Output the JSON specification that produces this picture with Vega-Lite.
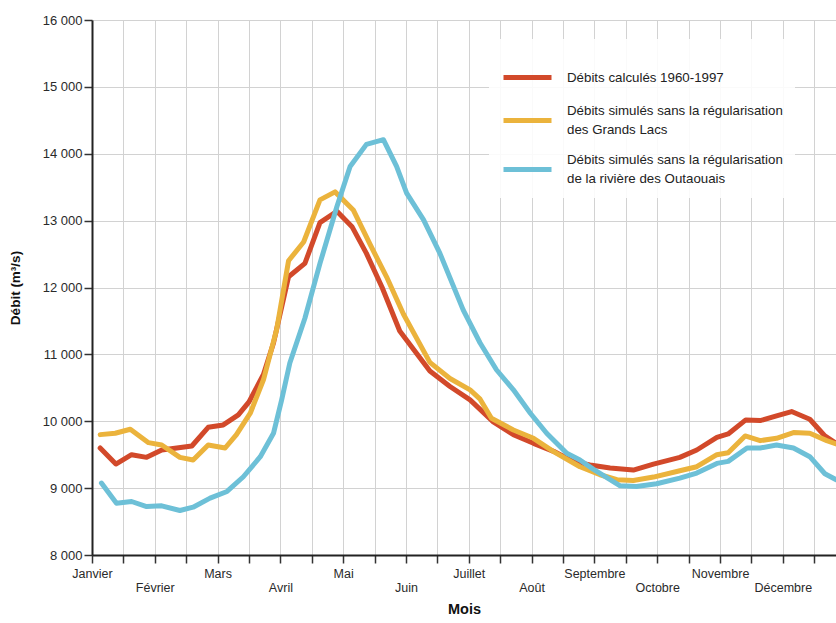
{
  "$schema": "https://vega.github.io/schema/vega-lite/v6.json",
  "width": 744,
  "height": 535,
  "autosize": {"type": "none"},
  "padding": {"left": 92, "top": 20, "right": 0, "bottom": 68},
  "background": "white",
  "config": {
    "font": "Liberation Sans",
    "view": {"stroke": null},
    "axis": {
      "labelFont": "Liberation Sans",
      "titleFont": "Liberation Sans",
      "labelFontSize": 12.5,
      "labelColor": "#2a2a2a",
      "titleColor": "#111",
      "domainColor": "#222",
      "domainWidth": 2,
      "tickColor": "#333",
      "tickWidth": 1.5,
      "tickSize": 8,
      "gridColor": "#d2d2d2",
      "gridWidth": 1
    }
  },
  "data": {
    "values": [
      {"mois": 0.13, "debit": 9600, "serie": "Débits calculés 1960-1997"},
      {"mois": 0.38, "debit": 9360, "serie": "Débits calculés 1960-1997"},
      {"mois": 0.63, "debit": 9500, "serie": "Débits calculés 1960-1997"},
      {"mois": 0.87, "debit": 9460, "serie": "Débits calculés 1960-1997"},
      {"mois": 1.11, "debit": 9570, "serie": "Débits calculés 1960-1997"},
      {"mois": 1.35, "debit": 9600, "serie": "Débits calculés 1960-1997"},
      {"mois": 1.59, "debit": 9630, "serie": "Débits calculés 1960-1997"},
      {"mois": 1.85, "debit": 9910, "serie": "Débits calculés 1960-1997"},
      {"mois": 2.09, "debit": 9945, "serie": "Débits calculés 1960-1997"},
      {"mois": 2.33, "debit": 10095, "serie": "Débits calculés 1960-1997"},
      {"mois": 2.5, "debit": 10290, "serie": "Débits calculés 1960-1997"},
      {"mois": 2.73, "debit": 10700, "serie": "Débits calculés 1960-1997"},
      {"mois": 2.89, "debit": 11170, "serie": "Débits calculés 1960-1997"},
      {"mois": 3.13, "debit": 12160, "serie": "Débits calculés 1960-1997"},
      {"mois": 3.39, "debit": 12360, "serie": "Débits calculés 1960-1997"},
      {"mois": 3.63, "debit": 12970, "serie": "Débits calculés 1960-1997"},
      {"mois": 3.9, "debit": 13140, "serie": "Débits calculés 1960-1997"},
      {"mois": 4.14, "debit": 12910, "serie": "Débits calculés 1960-1997"},
      {"mois": 4.37, "debit": 12510, "serie": "Débits calculés 1960-1997"},
      {"mois": 4.62, "debit": 12000, "serie": "Débits calculés 1960-1997"},
      {"mois": 4.9, "debit": 11350, "serie": "Débits calculés 1960-1997"},
      {"mois": 5.14, "debit": 11050, "serie": "Débits calculés 1960-1997"},
      {"mois": 5.38, "debit": 10750, "serie": "Débits calculés 1960-1997"},
      {"mois": 5.7, "debit": 10520, "serie": "Débits calculés 1960-1997"},
      {"mois": 6.02, "debit": 10320, "serie": "Débits calculés 1960-1997"},
      {"mois": 6.39, "debit": 9990, "serie": "Débits calculés 1960-1997"},
      {"mois": 6.71, "debit": 9800, "serie": "Débits calculés 1960-1997"},
      {"mois": 7.03, "debit": 9670, "serie": "Débits calculés 1960-1997"},
      {"mois": 7.35, "debit": 9550, "serie": "Débits calculés 1960-1997"},
      {"mois": 7.66, "debit": 9400, "serie": "Débits calculés 1960-1997"},
      {"mois": 7.93, "debit": 9345, "serie": "Débits calculés 1960-1997"},
      {"mois": 8.25, "debit": 9300, "serie": "Débits calculés 1960-1997"},
      {"mois": 8.62, "debit": 9270, "serie": "Débits calculés 1960-1997"},
      {"mois": 8.94, "debit": 9360, "serie": "Débits calculés 1960-1997"},
      {"mois": 9.36, "debit": 9460, "serie": "Débits calculés 1960-1997"},
      {"mois": 9.63, "debit": 9570, "serie": "Débits calculés 1960-1997"},
      {"mois": 9.95, "debit": 9760, "serie": "Débits calculés 1960-1997"},
      {"mois": 10.13, "debit": 9810, "serie": "Débits calculés 1960-1997"},
      {"mois": 10.41, "debit": 10020, "serie": "Débits calculés 1960-1997"},
      {"mois": 10.64, "debit": 10010, "serie": "Débits calculés 1960-1997"},
      {"mois": 10.9, "debit": 10080, "serie": "Débits calculés 1960-1997"},
      {"mois": 11.14, "debit": 10145, "serie": "Débits calculés 1960-1997"},
      {"mois": 11.43, "debit": 10030, "serie": "Débits calculés 1960-1997"},
      {"mois": 11.67, "debit": 9780, "serie": "Débits calculés 1960-1997"},
      {"mois": 11.85, "debit": 9670, "serie": "Débits calculés 1960-1997"},

      {"mois": 0.13, "debit": 9800, "serie": "Débits simulés sans la régularisation des Grands Lacs"},
      {"mois": 0.37, "debit": 9820, "serie": "Débits simulés sans la régularisation des Grands Lacs"},
      {"mois": 0.61, "debit": 9880, "serie": "Débits simulés sans la régularisation des Grands Lacs"},
      {"mois": 0.9, "debit": 9680, "serie": "Débits simulés sans la régularisation des Grands Lacs"},
      {"mois": 1.11, "debit": 9645, "serie": "Débits simulés sans la régularisation des Grands Lacs"},
      {"mois": 1.4, "debit": 9460, "serie": "Débits simulés sans la régularisation des Grands Lacs"},
      {"mois": 1.61, "debit": 9420, "serie": "Débits simulés sans la régularisation des Grands Lacs"},
      {"mois": 1.85, "debit": 9645, "serie": "Débits simulés sans la régularisation des Grands Lacs"},
      {"mois": 2.12, "debit": 9600, "serie": "Débits simulés sans la régularisation des Grands Lacs"},
      {"mois": 2.3, "debit": 9800, "serie": "Débits simulés sans la régularisation des Grands Lacs"},
      {"mois": 2.52, "debit": 10120, "serie": "Débits simulés sans la régularisation des Grands Lacs"},
      {"mois": 2.73, "debit": 10620, "serie": "Débits simulés sans la régularisation des Grands Lacs"},
      {"mois": 2.94, "debit": 11370, "serie": "Débits simulés sans la régularisation des Grands Lacs"},
      {"mois": 3.13, "debit": 12400, "serie": "Débits simulés sans la régularisation des Grands Lacs"},
      {"mois": 3.37, "debit": 12680, "serie": "Débits simulés sans la régularisation des Grands Lacs"},
      {"mois": 3.63, "debit": 13310, "serie": "Débits simulés sans la régularisation des Grands Lacs"},
      {"mois": 3.87, "debit": 13430, "serie": "Débits simulés sans la régularisation des Grands Lacs"},
      {"mois": 4.16, "debit": 13160, "serie": "Débits simulés sans la régularisation des Grands Lacs"},
      {"mois": 4.43, "debit": 12640, "serie": "Débits simulés sans la régularisation des Grands Lacs"},
      {"mois": 4.69, "debit": 12160, "serie": "Débits simulés sans la régularisation des Grands Lacs"},
      {"mois": 4.96, "debit": 11600, "serie": "Débits simulés sans la régularisation des Grands Lacs"},
      {"mois": 5.38, "debit": 10880, "serie": "Débits simulés sans la régularisation des Grands Lacs"},
      {"mois": 5.7, "debit": 10640, "serie": "Débits simulés sans la régularisation des Grands Lacs"},
      {"mois": 6.02, "debit": 10470, "serie": "Débits simulés sans la régularisation des Grands Lacs"},
      {"mois": 6.18, "debit": 10330, "serie": "Débits simulés sans la régularisation des Grands Lacs"},
      {"mois": 6.36, "debit": 10045, "serie": "Débits simulés sans la régularisation des Grands Lacs"},
      {"mois": 6.71, "debit": 9870, "serie": "Débits simulés sans la régularisation des Grands Lacs"},
      {"mois": 7.03, "debit": 9745, "serie": "Débits simulés sans la régularisation des Grands Lacs"},
      {"mois": 7.35, "debit": 9545, "serie": "Débits simulés sans la régularisation des Grands Lacs"},
      {"mois": 7.77, "debit": 9320, "serie": "Débits simulés sans la régularisation des Grands Lacs"},
      {"mois": 8.09, "debit": 9200, "serie": "Débits simulés sans la régularisation des Grands Lacs"},
      {"mois": 8.36, "debit": 9125, "serie": "Débits simulés sans la régularisation des Grands Lacs"},
      {"mois": 8.62, "debit": 9115, "serie": "Débits simulés sans la régularisation des Grands Lacs"},
      {"mois": 8.94, "debit": 9165, "serie": "Débits simulés sans la régularisation des Grands Lacs"},
      {"mois": 9.36, "debit": 9260, "serie": "Débits simulés sans la régularisation des Grands Lacs"},
      {"mois": 9.63, "debit": 9320, "serie": "Débits simulés sans la régularisation des Grands Lacs"},
      {"mois": 9.95, "debit": 9500, "serie": "Débits simulés sans la régularisation des Grands Lacs"},
      {"mois": 10.13, "debit": 9530, "serie": "Débits simulés sans la régularisation des Grands Lacs"},
      {"mois": 10.4, "debit": 9780, "serie": "Débits simulés sans la régularisation des Grands Lacs"},
      {"mois": 10.64, "debit": 9710, "serie": "Débits simulés sans la régularisation des Grands Lacs"},
      {"mois": 10.9, "debit": 9745, "serie": "Débits simulés sans la régularisation des Grands Lacs"},
      {"mois": 11.17, "debit": 9830, "serie": "Débits simulés sans la régularisation des Grands Lacs"},
      {"mois": 11.43, "debit": 9820, "serie": "Débits simulés sans la régularisation des Grands Lacs"},
      {"mois": 11.7, "debit": 9710, "serie": "Débits simulés sans la régularisation des Grands Lacs"},
      {"mois": 11.85, "debit": 9660, "serie": "Débits simulés sans la régularisation des Grands Lacs"},

      {"mois": 0.15, "debit": 9075, "serie": "Débits simulés sans la régularisation de la rivière des Outaouais"},
      {"mois": 0.39, "debit": 8775, "serie": "Débits simulés sans la régularisation de la rivière des Outaouais"},
      {"mois": 0.63, "debit": 8800, "serie": "Débits simulés sans la régularisation de la rivière des Outaouais"},
      {"mois": 0.87, "debit": 8725, "serie": "Débits simulés sans la régularisation de la rivière des Outaouais"},
      {"mois": 1.11, "debit": 8735, "serie": "Débits simulés sans la régularisation de la rivière des Outaouais"},
      {"mois": 1.4, "debit": 8665, "serie": "Débits simulés sans la régularisation de la rivière des Outaouais"},
      {"mois": 1.61, "debit": 8715, "serie": "Débits simulés sans la régularisation de la rivière des Outaouais"},
      {"mois": 1.88, "debit": 8850, "serie": "Débits simulés sans la régularisation de la rivière des Outaouais"},
      {"mois": 2.15, "debit": 8950, "serie": "Débits simulés sans la régularisation de la rivière des Outaouais"},
      {"mois": 2.41, "debit": 9170, "serie": "Débits simulés sans la régularisation de la rivière des Outaouais"},
      {"mois": 2.68, "debit": 9470, "serie": "Débits simulés sans la régularisation de la rivière des Outaouais"},
      {"mois": 2.89, "debit": 9820, "serie": "Débits simulés sans la régularisation de la rivière des Outaouais"},
      {"mois": 3.02, "debit": 10320, "serie": "Débits simulés sans la régularisation de la rivière des Outaouais"},
      {"mois": 3.15, "debit": 10870, "serie": "Débits simulés sans la régularisation de la rivière des Outaouais"},
      {"mois": 3.39, "debit": 11540, "serie": "Débits simulés sans la régularisation de la rivière des Outaouais"},
      {"mois": 3.63, "debit": 12360, "serie": "Débits simulés sans la régularisation de la rivière des Outaouais"},
      {"mois": 3.9, "debit": 13210, "serie": "Débits simulés sans la régularisation de la rivière des Outaouais"},
      {"mois": 4.11, "debit": 13810, "serie": "Débits simulés sans la régularisation de la rivière des Outaouais"},
      {"mois": 4.37, "debit": 14140, "serie": "Débits simulés sans la régularisation de la rivière des Outaouais"},
      {"mois": 4.64, "debit": 14210, "serie": "Débits simulés sans la régularisation de la rivière des Outaouais"},
      {"mois": 4.85, "debit": 13810, "serie": "Débits simulés sans la régularisation de la rivière des Outaouais"},
      {"mois": 5.01, "debit": 13410, "serie": "Débits simulés sans la régularisation de la rivière des Outaouais"},
      {"mois": 5.28, "debit": 13010, "serie": "Débits simulés sans la régularisation de la rivière des Outaouais"},
      {"mois": 5.54, "debit": 12510, "serie": "Débits simulés sans la régularisation de la rivière des Outaouais"},
      {"mois": 5.91, "debit": 11665, "serie": "Débits simulés sans la régularisation de la rivière des Outaouais"},
      {"mois": 6.18, "debit": 11170, "serie": "Débits simulés sans la régularisation de la rivière des Outaouais"},
      {"mois": 6.44, "debit": 10770, "serie": "Débits simulés sans la régularisation de la rivière des Outaouais"},
      {"mois": 6.71, "debit": 10470, "serie": "Débits simulés sans la régularisation de la rivière des Outaouais"},
      {"mois": 6.98, "debit": 10120, "serie": "Débits simulés sans la régularisation de la rivière des Outaouais"},
      {"mois": 7.24, "debit": 9820, "serie": "Débits simulés sans la régularisation de la rivière des Outaouais"},
      {"mois": 7.56, "debit": 9520, "serie": "Débits simulés sans la régularisation de la rivière des Outaouais"},
      {"mois": 7.77, "debit": 9420, "serie": "Débits simulés sans la régularisation de la rivière des Outaouais"},
      {"mois": 7.98, "debit": 9285, "serie": "Débits simulés sans la régularisation de la rivière des Outaouais"},
      {"mois": 8.41, "debit": 9035, "serie": "Débits simulés sans la régularisation de la rivière des Outaouais"},
      {"mois": 8.67, "debit": 9025, "serie": "Débits simulés sans la régularisation de la rivière des Outaouais"},
      {"mois": 8.99, "debit": 9065, "serie": "Débits simulés sans la régularisation de la rivière des Outaouais"},
      {"mois": 9.36, "debit": 9150, "serie": "Débits simulés sans la régularisation de la rivière des Outaouais"},
      {"mois": 9.63, "debit": 9225, "serie": "Débits simulés sans la régularisation de la rivière des Outaouais"},
      {"mois": 9.95, "debit": 9370, "serie": "Débits simulés sans la régularisation de la rivière des Outaouais"},
      {"mois": 10.13, "debit": 9400, "serie": "Débits simulés sans la régularisation de la rivière des Outaouais"},
      {"mois": 10.43, "debit": 9600, "serie": "Débits simulés sans la régularisation de la rivière des Outaouais"},
      {"mois": 10.64, "debit": 9600, "serie": "Débits simulés sans la régularisation de la rivière des Outaouais"},
      {"mois": 10.9, "debit": 9645, "serie": "Débits simulés sans la régularisation de la rivière des Outaouais"},
      {"mois": 11.17, "debit": 9600, "serie": "Débits simulés sans la régularisation de la rivière des Outaouais"},
      {"mois": 11.43, "debit": 9470, "serie": "Débits simulés sans la régularisation de la rivière des Outaouais"},
      {"mois": 11.67, "debit": 9215, "serie": "Débits simulés sans la régularisation de la rivière des Outaouais"},
      {"mois": 11.85, "debit": 9125, "serie": "Débits simulés sans la régularisation de la rivière des Outaouais"}
    ]
  },
  "mark": {"type": "line", "strokeWidth": 5, "strokeCap": "round", "strokeJoin": "round", "clip": true},
  "encoding": {
    "x": {
      "field": "mois",
      "type": "quantitative",
      "title": "Mois",
      "scale": {"domain": [0, 11.847], "nice": false, "zero": false},
      "axis": {
        "values": [0, 0.5, 1, 1.5, 2, 2.5, 3, 3.5, 4, 4.5, 5, 5.5, 6, 6.5, 7, 7.5, 8, 8.5, 9, 9.5, 10, 10.5, 11, 11.5],
        "labelExpr": "datum.value % 1 != 0 ? '' : (datum.value % 2 == 0 ? ['Janvier','Février','Mars','Avril','Mai','Juin','Juillet','Août','Septembre','Octobre','Novembre','Décembre'][datum.value] : ['', ['Janvier','Février','Mars','Avril','Mai','Juin','Juillet','Août','Septembre','Octobre','Novembre','Décembre'][datum.value]])",
        "labelFlush": false,
        "labelOverlap": false,
        "labelBound": false,
        "labelPadding": 4,
        "labelLineHeight": 14,
        "titleFontSize": 14.5,
        "titleFontWeight": "bold",
        "titlePadding": 9,
        "grid": true
      }
    },
    "y": {
      "field": "debit",
      "type": "quantitative",
      "title": "Débit (m³/s)",
      "scale": {"domain": [8000, 16000], "nice": false, "zero": false},
      "axis": {
        "values": [8000, 9000, 10000, 11000, 12000, 13000, 14000, 15000, 16000],
        "labelExpr": "replace(format(datum.value, ','), ',', ' ')",
        "labelFontSize": 13,
        "labelPadding": 2,
        "titleFontSize": 13.5,
        "titleFontWeight": "bold",
        "titlePadding": 20,
        "grid": true
      }
    },
    "color": {
      "field": "serie",
      "type": "nominal",
      "scale": {
        "domain": [
          "Débits calculés 1960-1997",
          "Débits simulés sans la régularisation des Grands Lacs",
          "Débits simulés sans la régularisation de la rivière des Outaouais"
        ],
        "range": ["#d2492a", "#ebb33c", "#6dc0d7"]
      },
      "legend": {
        "title": null,
        "orient": "none",
        "legendX": 397,
        "legendY": 19,
        "padding": 12,
        "fillColor": "rgba(255,255,255,0.88)",
        "symbolType": "stroke",
        "symbolSize": 2304,
        "symbolStrokeWidth": 5,
        "labelOffset": 13,
        "labelFontSize": 13.3,
        "labelColor": "#222",
        "labelLimit": 400,
        "rowPadding": 6,
        "labelExpr": "split(replace(datum.label, 'régularisation ', 'régularisation|'), '|')",
        "encode": {
          "labels": {
            "update": {
              "lineHeight": {"value": 19},
              "dy": {"signal": "indexof(datum.label, 'régularisation') >= 0 ? -9.5 : 0"}
            }
          }
        }
      }
    }
  }
}
